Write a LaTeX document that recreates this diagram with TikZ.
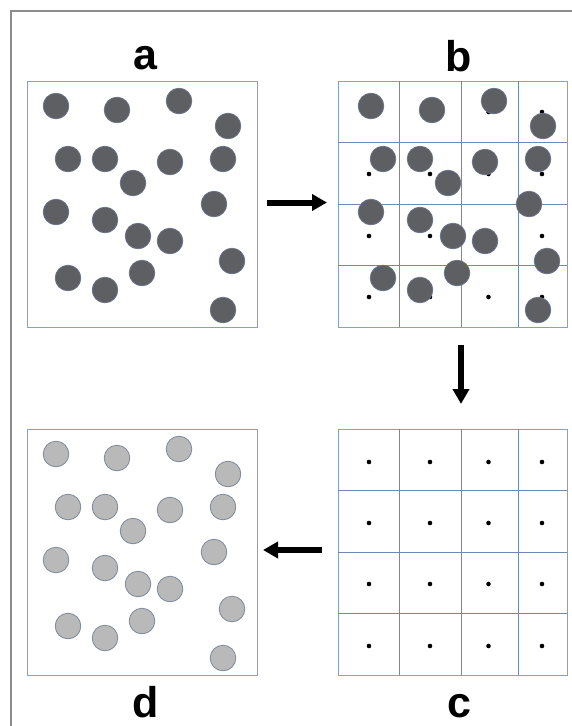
\documentclass[tikz,border=0pt]{standalone}
\usepackage{fontspec}
\setmainfont{Liberation Sans}
\usetikzlibrary{arrows.meta}
\definecolor{framegray}{HTML}{8C8C8C}
\definecolor{boxblue}{HTML}{87A0C8}
\definecolor{gridblue}{HTML}{7088B4}
\definecolor{darkfill}{HTML}{5E5F62}
\definecolor{darkedge}{HTML}{6A7388}
\definecolor{lightfill}{HTML}{B9B9B9}
\definecolor{lightedge}{HTML}{7D8899}
\tikzset{
  panel/.style={draw=boxblue, line width=1pt, rectangle, inner sep=0pt, outer sep=0pt},
  gridline/.style={draw=gridblue, line width=0.9pt},
  lab/.style={font=\fontsize{43}{43}\selectfont\bfseries, inner sep=0pt, anchor=base},
  darkball/.style={fill=darkfill, draw=darkedge, line width=0.8pt},
  lightball/.style={fill=lightfill, draw=lightedge, line width=0.8pt},
  centerdot/.style={fill=black},
  bigarrow/.style={line width=6pt, -{Triangle[length=15pt,width=16pt]}}
}
\def\circlist{56/106, 117/110, 179/101, 228/126, 68/159, 105/159, 170/162, 223/159, 133/183, 56/212, 214/204, 105/220, 138/236, 170/241, 232/261, 68/278, 105/290, 142/273, 223/310}
\begin{document}
\begin{tikzpicture}[x=1pt,y=-1pt]
\useasboundingbox (0,0) rectangle (572,726);
% outer frame
\draw[framegray, line width=1.5pt] (11,726) -- (11,11) -- (572,11);

% panel boxes
\node[panel, minimum width=230pt, minimum height=246pt] (A) at (142,204) {};
\node[panel, minimum width=229pt, minimum height=246pt] (B) at (452.5,204) {};
\node[panel, minimum width=229pt, minimum height=246pt] (C) at (452.5,552) {};
\node[panel, minimum width=230pt, minimum height=246pt] (D) at (142,552) {};

% labels
\node[lab] (la) at (145.5,69.5) {a};
\node[lab] (lb) at (459,71) {b};
\node[lab] (lc) at (459,717) {c};
\node[lab] (ld) at (145.5,717) {d};

% panel a circles
\foreach \x/\y in \circlist { \fill[darkball] (\x,\y) circle (12.8); }

% panel b grid
\foreach \gx in {399.5,461,518.5} { \draw[gridline] (\gx,81) -- (\gx,327); }
\foreach \gy in {142.5,204,265.5} { \draw[gridline] (338,\gy) -- (567,\gy); }
\foreach \dx in {369,430,488.5,542} {
  \foreach \dy in {112,174,236,297} { \fill[centerdot] (\dx,\dy) circle (2.3); }
}
\foreach \x/\y in \circlist { \fill[darkball] (\x+315,\y) circle (12.8); }

% panel c grid
\foreach \gx in {399.5,461,518.5} { \draw[gridline] (\gx,429) -- (\gx,675); }
\foreach \gy in {490.5,552,613.5} { \draw[gridline] (338,\gy) -- (567,\gy); }
\foreach \dx in {369,430,488.5,542} {
  \foreach \dy in {462,523,584,646} { \fill[centerdot] (\dx,\dy) circle (2.3); }
}

% panel d circles
\foreach \x/\y in \circlist { \fill[lightball] (\x,\y+348) circle (12.8); }

% arrows
\coordinate (ab1) at (267,202.5);
\coordinate (ab2) at (327,202.5);
\coordinate (bc1) at (461,345);
\coordinate (bc2) at (461,404);
\coordinate (cd1) at (322,550);
\coordinate (cd2) at (263,550);
\draw[bigarrow] (ab1) -- (ab2);
\draw[bigarrow] (bc1) -- (bc2);
\draw[bigarrow] (cd1) -- (cd2);
\end{tikzpicture}
\end{document}
